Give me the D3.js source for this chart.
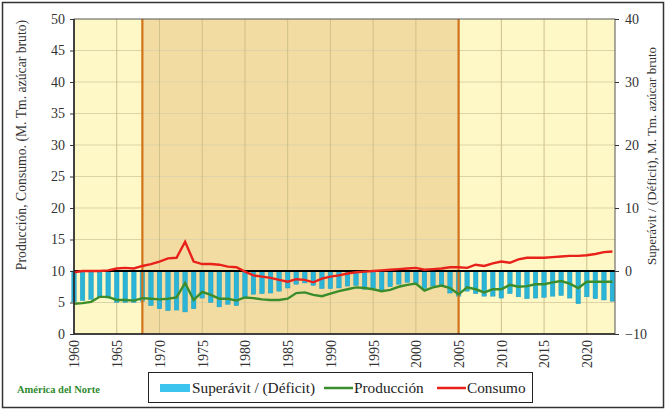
<!DOCTYPE html>
<html><head><meta charset="utf-8">
<script src="https://cdn.jsdelivr.net/npm/d3@7"></script>
<style>body{margin:0;background:#fff;}svg{display:block;} text{font-family:'Liberation Serif','Times New Roman',serif;}</style>
</head><body><svg id="c" width="666" height="410"></svg>
<script>
const years = d3.range(1960, 2024);
const consumo = [9.8,10.0,10.0,10.0,10.1,10.4,10.5,10.4,10.8,11.1,11.5,12.0,12.1,14.65,11.5,11.1,11.1,11.0,10.7,10.6,9.9,9.3,9.1,8.9,8.6,8.3,8.7,8.6,8.2,8.8,9.1,9.3,9.6,9.8,9.9,10.0,10.1,10.2,10.3,10.4,10.5,10.2,10.3,10.4,10.6,10.6,10.5,11.0,10.8,11.2,11.5,11.3,11.85,12.1,12.1,12.1,12.2,12.3,12.4,12.4,12.5,12.7,13.0,13.1];
const produccion = [4.8,4.9,5.1,5.9,5.9,5.4,5.4,5.3,5.7,5.6,5.5,5.6,5.8,8.1,5.4,6.7,6.2,5.6,5.6,5.3,5.8,5.7,5.5,5.4,5.4,5.6,6.5,6.6,6.2,6.0,6.4,6.8,7.1,7.4,7.3,7.1,6.8,7.0,7.5,7.8,8.0,6.9,7.4,7.7,7.3,6.3,7.4,7.1,6.6,7.1,7.1,7.8,7.5,7.6,7.9,7.9,8.2,8.4,8.0,7.3,8.3,8.3,8.3,8.3];
const superavit = [-4.9,-4.7,-4.5,-4.2,-4.3,-5.0,-5.0,-5.0,-4.8,-5.5,-6.0,-6.3,-6.2,-6.5,-6.0,-4.3,-5.0,-5.7,-5.3,-5.5,-4.3,-3.7,-3.6,-3.5,-3.2,-2.7,-2.1,-1.9,-2.3,-2.8,-2.8,-2.7,-2.4,-2.3,-2.9,-2.8,-3.2,-2.5,-2.1,-1.8,-2.0,-2.8,-2.4,-2.4,-3.5,-4.0,-3.2,-3.6,-4.0,-4.0,-4.3,-3.6,-4.1,-4.4,-4.3,-4.2,-4.0,-3.9,-4.3,-5.2,-4.1,-4.4,-4.6,-4.8];
const leftTicks = [0,5,10,15,20,25,30,35,40,45,50];
const rightTicks = [-10,0,10,20,30,40];
const xTicks = d3.range(1960, 2021, 5);
const shadeStart = 1968, shadeEnd = 2005;
const legendLabels = ["Superávit / (Déficit)", "Producción", "Consumo"];
const regionLabel = "América del Norte";
const leftTitle = "Producción, Consumo. (M. Tm. azúcar bruto)";
const rightTitle = "Superávit / (Déficit), M. Tm. azúcar bruto";

const svg = d3.select("#c");
const L = 74, R = 615, T = 19, B = 334;
const x = d3.scaleLinear().domain([1960, 2023.3]).range([L, R]);
const yL = d3.scaleLinear().domain([0, 50]).range([B, T]);
const yR = d3.scaleLinear().domain([-10, 40]).range([B, T]);

svg.append("rect").attr("x",2.5).attr("y",2.5).attr("width",661).attr("height",405).attr("fill","#fff").attr("stroke","#333").attr("stroke-width",1.5);

svg.append("rect").attr("x",L).attr("y",T).attr("width",R-L).attr("height",B-T).attr("fill","#fdf8c6");
svg.append("rect").attr("x",x(shadeStart)).attr("y",T).attr("width",x(shadeEnd)-x(shadeStart)).attr("height",B-T).attr("fill","#f3dca2");

const g = svg.append("g");
g.selectAll("line.h").data(leftTicks.filter(d=>d>0&&d<50)).join("line")
 .attr("x1",L).attr("x2",R).attr("y1",d=>yL(d)).attr("y2",d=>yL(d))
 .attr("stroke","#ddd3a6").attr("stroke-width",1);
g.selectAll("line.v").data(xTicks.filter(d=>d>1960)).join("line")
 .attr("x1",d=>x(d)).attr("x2",d=>x(d)).attr("y1",T).attr("y2",B)
 .attr("stroke","#cfc08a").attr("stroke-width",1);

svg.append("g").selectAll("rect").data(years.map((y,i)=>({y,v:superavit[i]}))).join("rect")
 .attr("x",d=>x(d.y)-2.3).attr("width",4.6)
 .attr("y",d=>Math.min(yR(0),yR(d.v))).attr("height",d=>Math.abs(yR(d.v)-yR(0)))
 .attr("fill","#2ab4d8").attr("stroke","#2398b5").attr("stroke-width",0.4);

[shadeStart, shadeEnd].forEach(v=>{
  svg.append("line").attr("x1",x(v)).attr("x2",x(v)).attr("y1",T).attr("y2",B)
   .attr("stroke","#d2731c").attr("stroke-width",2.2);
});

svg.append("line").attr("x1",L).attr("x2",R).attr("y1",yR(0)).attr("y2",yR(0)).attr("stroke","#000").attr("stroke-width",1.8);

const line = d3.line().x((d,i)=>x(years[i])).y(d=>yL(d));
svg.append("path").datum(produccion).attr("d",line).attr("fill","none").attr("stroke","#3b8d2c").attr("stroke-width",2.4);
svg.append("path").datum(consumo).attr("d",line).attr("fill","none").attr("stroke","#e8211a").attr("stroke-width",2.4);

svg.append("rect").attr("x",L).attr("y",T).attr("width",R-L).attr("height",B-T).attr("fill","none").attr("stroke","#555").attr("stroke-width",1);
svg.append("line").attr("x1",L).attr("x2",L).attr("y1",T).attr("y2",B).attr("stroke","#222").attr("stroke-width",1.5);
svg.append("line").attr("x1",L).attr("x2",R).attr("y1",B).attr("y2",B).attr("stroke","#222").attr("stroke-width",1.5);

const axL = svg.append("g").attr("transform",`translate(${L},0)`).call(d3.axisLeft(yL).tickValues(leftTicks).tickSize(4).tickPadding(5));
const axR = svg.append("g").attr("transform",`translate(${R},0)`).call(d3.axisRight(yR).tickValues(rightTicks).tickSize(4).tickPadding(6));
const axB = svg.append("g").attr("transform",`translate(0,${B})`).call(d3.axisBottom(x).tickValues(xTicks).tickFormat(d3.format("d")).tickSize(0));
[axL,axR,axB].forEach(a=>{a.attr("font-family",null);a.select(".domain").remove();a.selectAll("text").attr("font-size",14).attr("fill","#333");a.selectAll("line").attr("stroke","#333");});
axB.selectAll("text").attr("transform","rotate(-90)").attr("text-anchor","end").attr("dy","0.35em").attr("x",-6).attr("y",0);

svg.append("text").attr("transform",`translate(26,145) rotate(-90)`).attr("text-anchor","middle")
 .attr("font-size",13.7).attr("fill","#333").text(leftTitle);
svg.append("text").attr("transform",`translate(656,156) rotate(-90)`).attr("text-anchor","middle")
 .attr("font-size",13).attr("fill","#333").text(rightTitle);

svg.append("text").attr("x",17).attr("y",393).attr("font-size",10.5).attr("font-weight","bold").attr("fill","#2e8b2e").text(regionLabel);

const lg = svg.append("g");
lg.append("rect").attr("x",148.5).attr("y",372.5).attr("width",384).attr("height",30).attr("fill","#fff").attr("stroke","#222").attr("stroke-width",1);
lg.append("rect").attr("x",160).attr("y",384).attr("width",30).attr("height",8).attr("fill","#3cc3ee");
lg.append("text").attr("x",192).attr("y",393).attr("font-size",15.3).attr("fill","#222").text(legendLabels[0]);
lg.append("line").attr("x1",324).attr("x2",353).attr("y1",388).attr("y2",388).attr("stroke","#3b8d2c").attr("stroke-width",2.5);
lg.append("text").attr("x",354).attr("y",393).attr("font-size",15.3).attr("fill","#222").text(legendLabels[1]);
lg.append("line").attr("x1",437).attr("x2",466).attr("y1",388).attr("y2",388).attr("stroke","#e8211a").attr("stroke-width",2.5);
lg.append("text").attr("x",467).attr("y",393).attr("font-size",15.3).attr("fill","#222").text(legendLabels[2]);
</script></body></html>
